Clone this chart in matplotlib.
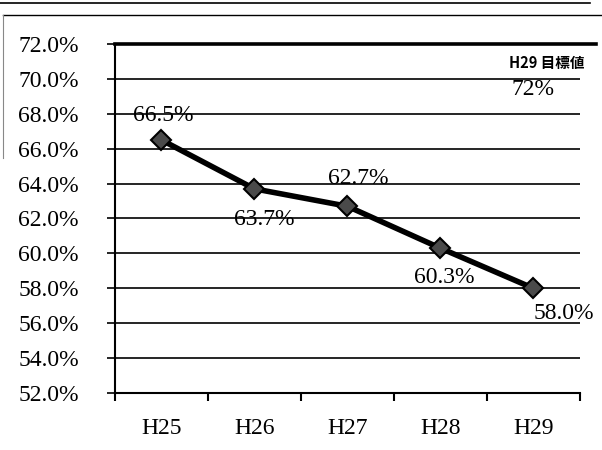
import matplotlib
matplotlib.use('Agg')
import matplotlib.pyplot as plt
from matplotlib.lines import Line2D

years = ['H25', 'H26', 'H27', 'H28', 'H29']
rates = [66.5, 63.7, 62.7, 60.3, 58.0]
rate_labels = ['66.5%', '63.7%', '62.7%', '60.3%', '58.0%']
target = 72.0
target_label = 'H29 目標値'
target_text = '72%'

SERIF = 'Liberation Serif'

fig = plt.figure(figsize=(6.02, 4.5), dpi=100)
ax = fig.add_axes([0.191, 0.127, 0.772, 0.775])

x = list(range(len(years)))

# grid lines
for v in range(52, 72, 2):
    ax.axhline(v, color='black', lw=1.2, zorder=1)
# target line (thick, runs a bit past the axis)
ax.plot([-0.5, 4.68], [target, target], color='black', lw=2.6, clip_on=False, zorder=2)

ax.plot(x, rates, color='black', lw=4, marker='D', markersize=10,
        markerfacecolor='#4a4a4a', markeredgecolor='black', markeredgewidth=1.5, zorder=3)

# label offsets in pixels (dx, dy)
dys = [25, -31, 28, -29, -25]
dxs = [2, 10, 11, 4, 31]
for i, (v, lab) in enumerate(zip(rates, rate_labels)):
    ax.annotate(lab, (i, v), xytext=(dxs[i] * 0.72, dys[i] * 0.72), textcoords='offset points',
                ha='center', va='center', fontsize=17, family=SERIF)

ax.text(4.15, 70.9, target_label, ha='center', va='center', fontsize=10.5,
        fontweight='bold', family=['Noto Sans CJK JP', 'DejaVu Sans'])
ax.text(4.0, 69.4, target_text, ha='center', va='center', fontsize=17,
        family=SERIF)

ax.set_xlim(-0.5, 4.5)
ax.set_ylim(52, 72)
ax.set_yticks(range(52, 73, 2))
ax.set_yticklabels(['%.1f%%' % v for v in range(52, 73, 2)], family=SERIF, fontsize=17)
ax.set_xticks([i - 0.5 for i in range(len(years) + 1)], minor=False)
ax.set_xticklabels([])
ax.set_xticks(x, minor=True)
ax.set_xticklabels(years, minor=True, family=SERIF, fontsize=17)
ax.tick_params(axis='x', which='minor', length=0, pad=18)
ax.tick_params(axis='x', which='major', length=6, width=1.5, direction='out')
ax.tick_params(axis='y', length=6, width=1.2, direction='out', pad=20)

for s in ['top', 'right']:
    ax.spines[s].set_visible(False)
ax.spines['left'].set_linewidth(1.5)
ax.spines['bottom'].set_linewidth(1.5)

# scanned page frame lines
fig.add_artist(Line2D([0.0, 0.98], [0.993, 0.993], color='black', lw=1.2))
fig.add_artist(Line2D([0.005, 1.0], [0.967, 0.967], color='black', lw=1.0))
fig.add_artist(Line2D([0.005, 0.005], [0.967, 0.65], color='#888888', lw=0.8))

fig.savefig('out.png', dpi=100)
